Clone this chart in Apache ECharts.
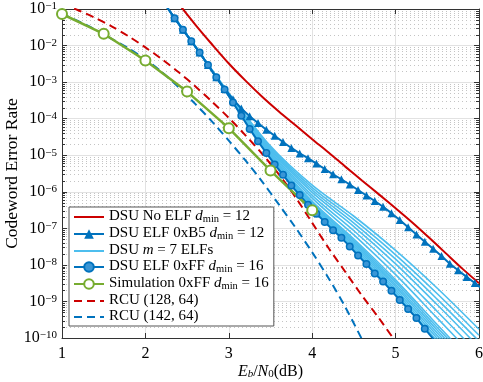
<!DOCTYPE html>
<html>
<head>
<meta charset="utf-8" />
<script src="https://cdn.jsdelivr.net/npm/echarts@6/dist/echarts.min.js"></script>
<style>
html, body { margin: 0; padding: 0; background: #fff; }
#main { width: 483px; height: 382px; }
</style>
</head>
<body>
<div id="main"></div>
<script>
// axis limits
var X_MIN = 1, X_MAX = 6, Y_MIN = 1e-10, Y_MAX = 1e-1;

// DSU curves with markers (0.1 dB spacing)
var xElf = [2.25,2.35,2.45,2.55,2.65,2.75,2.85,2.95,3.05,3.15,3.25,3.35,3.45,3.55,3.65,3.75,3.85,3.95,4.05,4.15,
            4.25,4.35,4.45,4.55,4.65,4.75,4.85,4.95,5.05,5.15,5.25,5.35,5.45,5.55,5.65,5.75,5.85,5.95,6.05];
var elfB5 = [0.12,0.0562,0.0269,0.0132,6.46e-3,2.95e-3,1.35e-3,6.5e-4,3.4e-4,1.9e-4,1.17e-4,7.6e-5,5.0e-5,3.4e-5,2.3e-5,
             1.58e-5,1.12e-5,8.3e-6,5.9e-6,4.2e-6,3.0e-6,2.2e-6,1.58e-6,1.12e-6,7.9e-7,5.6e-7,3.9e-7,2.6e-7,1.7e-7,
             1.07e-7,6.8e-8,4.3e-8,2.75e-8,1.74e-8,1.07e-8,7.1e-9,4.7e-9,3.2e-9,2.1e-9];
var elfFF = [0.12,0.0562,0.0269,0.0132,6.46e-3,2.95e-3,1.35e-3,6.3e-4,2.75e-4,1.2e-4,5.25e-5,2.4e-5,1.15e-5,5.6e-6,
             2.9e-6,1.48e-6,8.1e-7,4.4e-7,2.5e-7,1.5e-7,8.9e-8,5.5e-8,3.2e-8,1.8e-8,1.05e-8,5.8e-9,3.5e-9,1.95e-9,
             1.1e-9,6.2e-10,3.5e-10,1.8e-10,9.5e-11];

// DSU without ELF
var xNoElf = [2.4,2.6,2.8,3.0,3.2,3.4,3.6,3.8,4.0,4.2,4.4,4.6,4.8,5.0,5.2,5.4,5.6,5.8,6.0];
var noElf = [0.138,0.037,0.0107,3.24e-3,1.1e-3,4.0e-4,1.58e-4,6.6e-5,2.75e-5,1.17e-5,4.8e-6,2.0e-6,8.5e-7,3.55e-7,
             1.45e-7,5.6e-8,2.1e-8,7.9e-9,3.16e-9];

// m = 7 ELF family
var xFan = [2.3,2.6,3.0,3.5,4.0,4.5,5.0,5.5,6.0];
var fan1  = [0.081,9.3e-3,4.2e-4,8.2e-6,3.5e-7,2.68e-8,1.66e-9,8.1e-11,4.6e-12];
var fan2  = [0.081,9.3e-3,4.24e-4,8.55e-6,3.8e-7,2.99e-8,1.91e-9,9.7e-11,5.6e-12];
var fan3  = [0.081,9.3e-3,4.28e-4,8.9e-6,4.1e-7,3.33e-8,2.2e-9,1.15e-10,6.8e-12];
var fan4  = [0.081,9.3e-3,4.3e-4,9.3e-6,4.4e-7,3.7e-8,2.54e-9,1.37e-10,8.2e-12];
var fan5  = [0.081,9.3e-3,4.36e-4,9.6e-6,4.76e-7,4.13e-8,2.92e-9,1.63e-10,9.9e-12];
var fan6  = [0.081,9.3e-3,4.4e-4,1.0e-5,5.1e-7,4.6e-8,3.37e-9,1.94e-10,1.19e-11];
var fan7  = [0.081,9.3e-3,4.44e-4,1.04e-5,5.5e-7,5.1e-8,3.9e-9,2.3e-10,1.44e-11];
var fan8  = [0.081,9.3e-3,4.5e-4,1.15e-5,6.7e-7,6.6e-8,5.4e-9,3.5e-10,2.26e-11];
var fan9  = [0.081,9.3e-3,4.6e-4,1.27e-5,8.0e-7,8.6e-8,7.6e-9,5.3e-10,3.6e-11];
var fan10 = [0.081,9.3e-3,4.7e-4,1.4e-5,9.6e-7,1.12e-7,1.07e-8,8.1e-10,5.6e-11];
var fan11 = [0.081,9.3e-3,4.8e-4,1.51e-5,1.12e-6,1.39e-7,1.43e-8,1.14e-9,8.2e-11];
var fan12 = [0.081,9.3e-3,4.9e-4,1.64e-5,1.3e-6,1.72e-7,1.89e-8,1.62e-9,1.19e-10];
var fan13 = [0.081,9.3e-3,5.0e-4,1.78e-5,1.51e-6,2.14e-7,2.5e-8,2.3e-9,1.74e-10];
var fanLines = [fan1,fan2,fan3,fan4,fan5,fan6,fan7,fan8,fan9,fan10,fan11,fan12,fan13];

// simulation
var xSim = [1,1.5,2,2.5,3,3.5,4];
var sim = [0.073,0.021,3.9e-3,5.5e-4,5.5e-5,3.8e-6,3.1e-7];

// RCU bounds
var xRcu = [1.0,1.2,1.4,1.6,1.8,2.0,2.2,2.4,2.6,2.8,3.0,3.2,3.4,3.6,3.8,4.0,4.2,4.4,4.6,4.8,5.0];
var rcu128 = [0.138,0.091,0.057,0.033,0.0178,8.9e-3,4.2e-3,1.86e-3,7.6e-4,2.9e-4,1.05e-4,3.5e-5,1.09e-5,3.0e-6,
              7.1e-7,1.41e-7,2.8e-8,6.3e-9,1.41e-9,3.5e-10,7.9e-11];
var rcu142 = [0.073,0.046,0.027,0.015,8.3e-3,4.2e-3,1.86e-3,7.2e-4,2.5e-4,8.3e-5,2.5e-5,7.2e-6,1.9e-6,4.5e-7,
              1.05e-7,2.2e-8,4.2e-9,6.8e-10,8.9e-11];

var RED = '#cc0000', BLUE = '#0072BD', LBLUE = '#4DBEEE', GREEN = '#77AC30';
var FONT = 'Liberation Serif';

var N_NOELF = 'DSU No ELF', N_B5 = 'DSU ELF 0xB5', N_M7 = 'DSU m=7 ELFs', N_FF = 'DSU ELF 0xFF',
    N_SIM = 'Simulation 0xFF', N_R128 = 'RCU (128,64)', N_R142 = 'RCU (142,64)';
var legendText = {};
legendText[N_NOELF] = '{t|DSU No ELF }{i|d}{s|min}{t| = 12}';
legendText[N_B5] = '{t|DSU ELF 0xB5 }{i|d}{s|min}{t| = 12}';
legendText[N_M7] = '{t|DSU }{i|m}{t| = 7 ELFs}';
legendText[N_FF] = '{t|DSU ELF 0xFF }{i|d}{s|min}{t| = 16}';
legendText[N_SIM] = '{t|Simulation 0xFF }{i|d}{s|min}{t| = 16}';
legendText[N_R128] = '{t|RCU (128, 64)}';
legendText[N_R142] = '{t|RCU (142, 64)}';

// minor decade positions for the dotted grid
var minorTicks = [];
for (var e = -10; e < -1; e++) {
  for (var m = 2; m <= 9; m++) minorTicks.push(m * Math.pow(10, e));
}

function pairs(xs, ys) {
  return ys.map(function (y, i) { return [xs[i], y]; });
}

var chart = echarts.init(document.getElementById('main'));

var series = [];
series.push({
  type: 'custom', silent: true, z: 1,
  data: minorTicks.map(function (v) { return [X_MIN, v]; }),
  renderItem: function (params, api) {
    var a = api.coord([X_MIN, api.value(1)]);
    var b = api.coord([X_MAX, api.value(1)]);
    var y = Math.round(a[1]) + 0.5;
    return {
      type: 'group',
      children: [
        { type: 'line', shape: { x1: a[0], y1: y, x2: b[0], y2: y },
          style: { stroke: '#c4c4c4', lineWidth: 1, lineDash: [1, 3] } },
        { type: 'line', shape: { x1: a[0], y1: y, x2: a[0] + 3, y2: y },
          style: { stroke: '#333', lineWidth: 1 } },
        { type: 'line', shape: { x1: b[0] - 3, y1: y, x2: b[0], y2: y },
          style: { stroke: '#333', lineWidth: 1 } }
      ]
    };
  }
});

fanLines.forEach(function (ys) {
  series.push({
    name: N_M7, type: 'line', data: pairs(xFan, ys), symbol: 'none', smooth: 0.3,
    lineStyle: { color: LBLUE, width: 1.6 }, itemStyle: { color: LBLUE }
  });
});
series.push({
  name: N_R128, type: 'line', data: pairs(xRcu, rcu128), symbol: 'none', smooth: 0.3,
  lineStyle: { color: RED, width: 2, type: [8, 5] }, itemStyle: { color: RED }
});
series.push({
  name: N_R142, type: 'line', data: pairs(xRcu, rcu142), symbol: 'none', smooth: 0.3,
  lineStyle: { color: BLUE, width: 2, type: [8, 5] }, itemStyle: { color: BLUE }
});
series.push({
  name: N_NOELF, type: 'line', data: pairs(xNoElf, noElf), symbol: 'none', smooth: 0.3,
  lineStyle: { color: RED, width: 2 }, itemStyle: { color: RED }
});
series.push({
  name: N_B5, type: 'line', data: pairs(xElf, elfB5), symbol: 'triangle', symbolSize: 8,
  lineStyle: { color: BLUE, width: 2 }, itemStyle: { color: BLUE }
});
series.push({
  name: N_FF, type: 'line', data: pairs(xElf, elfFF), symbol: 'circle', symbolSize: 6.5,
  lineStyle: { color: BLUE, width: 2 }, itemStyle: { color: '#3a96d6', borderColor: BLUE, borderWidth: 1.5 }
});
series.push({
  name: N_SIM, type: 'line', data: pairs(xSim, sim), symbol: 'emptyCircle', symbolSize: 10,
  lineStyle: { color: GREEN, width: 2.5 }, itemStyle: { color: GREEN, borderWidth: 2.5 }
});
series.forEach(function (s) {
  if (s.type === 'line') { s.clip = true; s.emphasis = { disabled: true }; s.xAxisIndex = 0; s.yAxisIndex = 0; }
});

var tickRich = {
  b: { fontFamily: FONT, fontSize: 16, lineHeight: 16, verticalAlign: 'bottom', color: '#000' },
  e: { fontFamily: FONT, fontSize: 11, lineHeight: 8, verticalAlign: 'top', color: '#000' }
};
var noMarker = { opacity: 0, color: 'transparent', borderWidth: 0 };

option = {
  animation: false,
  backgroundColor: '#fff',
  grid: { left: 62, right: 4, top: 9, bottom: 44, containLabel: false, outerBoundsMode: 'none' },
  legend: {
    data: [
      { name: N_NOELF, itemStyle: noMarker },
      { name: N_B5 },
      { name: N_M7, itemStyle: noMarker },
      { name: N_FF },
      { name: N_SIM },
      { name: N_R128, itemStyle: noMarker },
      { name: N_R142, itemStyle: noMarker }
    ],
    orient: 'vertical', left: 69, top: 207,
    itemWidth: 30, itemHeight: 12, itemGap: 1,
    padding: [2, 5, 2, 4],
    borderColor: '#555', borderWidth: 1, backgroundColor: '#fff',
    selectedMode: false,
    formatter: function (name) { return legendText[name]; },
    textStyle: {
      fontFamily: FONT, fontSize: 15, color: '#000',
      rich: {
        t: { fontFamily: FONT, fontSize: 15, lineHeight: 16, verticalAlign: 'top', color: '#000' },
        i: { fontFamily: FONT, fontSize: 15, fontStyle: 'italic', lineHeight: 16, verticalAlign: 'top', color: '#000' },
        s: { fontFamily: FONT, fontSize: 10.5, lineHeight: 8, verticalAlign: 'bottom', color: '#000' }
      }
    }
  },
  xAxis: [{
    type: 'value', min: X_MIN, max: X_MAX, interval: 1,
    name: '{i|E}{si|b}{t|/}{i|N}{s|0}{t|(dB)}', nameLocation: 'middle', nameGap: 26,
    nameMoveOverlap: false,
    nameTextStyle: {
      rich: {
        t: { fontFamily: FONT, fontSize: 16, lineHeight: 16, verticalAlign: 'top', color: '#000' },
        i: { fontFamily: FONT, fontSize: 16, fontStyle: 'italic', lineHeight: 16, verticalAlign: 'top', color: '#000' },
        si: { fontFamily: FONT, fontSize: 11, fontStyle: 'italic', lineHeight: 8, verticalAlign: 'bottom', color: '#000' },
        s: { fontFamily: FONT, fontSize: 11, lineHeight: 8, verticalAlign: 'bottom', color: '#000' }
      }
    },
    axisLine: { onZero: false, lineStyle: { color: '#333', width: 1 } },
    axisTick: { inside: true, length: 5, lineStyle: { color: '#333' } },
    axisLabel: { fontFamily: FONT, fontSize: 16, color: '#000', margin: 8 },
    splitLine: { show: true, lineStyle: { color: '#e2e2e2', width: 1 } }
  }, {
    type: 'value', min: X_MIN, max: X_MAX, interval: 1, position: 'top',
    axisLine: { onZero: false, lineStyle: { color: '#333', width: 1 } },
    axisTick: { inside: true, length: 5, lineStyle: { color: '#333' } },
    axisLabel: { show: false }, splitLine: { show: false }
  }],
  yAxis: [{
    type: 'log', logBase: 10, min: Y_MIN, max: Y_MAX,
    name: 'Codeword Error Rate', nameLocation: 'middle', nameGap: 41,
    nameMoveOverlap: false,
    nameTextStyle: { fontFamily: FONT, fontSize: 17.5, color: '#000' },
    axisLine: { onZero: false, lineStyle: { color: '#333', width: 1 } },
    axisTick: { inside: true, length: 5, lineStyle: { color: '#333' } },
    axisLabel: {
      margin: 5,
      formatter: function (v) {
        var n = Math.round(Math.log10(v));
        return '{b|10}{e|' + (n < 0 ? '\u2212' : '') + Math.abs(n) + '}';
      },
      rich: tickRich
    },
    splitLine: { show: true, lineStyle: { color: '#e2e2e2', width: 1 } }
  }, {
    type: 'log', logBase: 10, min: Y_MIN, max: Y_MAX, position: 'right',
    axisLine: { onZero: false, lineStyle: { color: '#333', width: 1 } },
    axisTick: { inside: true, length: 5, lineStyle: { color: '#333' } },
    axisLabel: { show: false }, splitLine: { show: false }
  }],
  series: series
};

chart.setOption(option);
</script>
</body>
</html>
